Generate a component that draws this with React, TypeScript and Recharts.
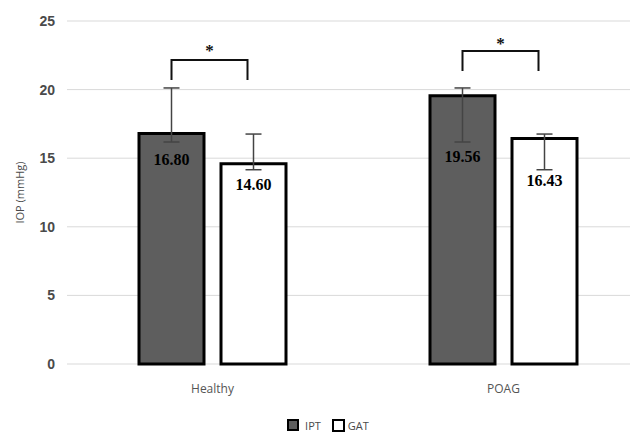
import React from 'react';
import { BarChart, Bar, XAxis, YAxis, CartesianGrid, ErrorBar, LabelList, Legend } from 'recharts';

const categories = ['Healthy', 'POAG'];
const iptValues = [16.8, 19.56];
const gatValues = [14.6, 16.43];
const iptError = [[0.62, 3.32], [3.38, 0.56]];
const gatError = [[0.44, 2.16], [2.27, 0.33]];
const iptLabelLevel = [14.94, 15.16];
const gatLabelLevel = [13.05, 13.41];
const bracketTop = [22.16, 22.81];
const bracketFoot = [20.7, 21.36];
const starLevel = [23.25, 23.69];
const yTicks = [0, 5, 10, 15, 20, 25];
const significance = ['*', '*'];

const data = categories.map((c, i) => ({
  name: c,
  IPT: iptValues[i],
  GAT: gatValues[i],
  iptErr: iptError[i],
  gatErr: gatError[i],
}));

const BAR_SIZE = 65;
const BAR_GAP = 17;

const valueLabel = (levels: number[]) => (props: any) => {
  const { x, y, width, height, value, index } = props;
  const k = height / value;
  const zero = y + height;
  const cy = zero - levels[index] * k;
  return (
    <text
      x={x + width / 2}
      y={cy}
      textAnchor="middle"
      dominantBaseline="central"
      fontFamily="'Liberation Serif', 'Times New Roman', serif"
      fontWeight="bold"
      fontSize={16}
      fill="#000"
    >
      {Number(value).toFixed(2)}
    </text>
  );
};

const bracketLabel = (props: any) => {
  const { x, y, width, height, value, index } = props;
  const k = height / value;
  const zero = y + height;
  const x1 = x + width / 2;
  const x2 = x + width * 1.5 + BAR_GAP - 6;
  const yt = zero - bracketTop[index] * k;
  const yf = zero - bracketFoot[index] * k;
  const ys = zero - starLevel[index] * k;
  return (
    <g>
      <path
        d={`M${x1},${yf} L${x1},${yt} L${x2},${yt} L${x2},${yf}`}
        fill="none"
        stroke="#111"
        strokeWidth={2}
      />
      <text
        x={(x1 + x2) / 2}
        y={ys + 5}
        textAnchor="middle"
        dominantBaseline="central"
        fontFamily="'Liberation Serif', serif"
        fontWeight="bold"
        fontSize={17}
        fill="#111"
      >
        {significance[index]}
      </text>
    </g>
  );
};

const LegendContent = () => (
  <div
    style={{
      height: 20,
      display: 'flex',
      justifyContent: 'center',
      alignItems: 'center',
      fontFamily: "'Open Sans', sans-serif",
      fontSize: 11,
      color: '#4a4a4a',
      paddingLeft: 10,
    }}
  >
    <span
      style={{
        display: 'inline-block',
        width: 8,
        height: 8,
        background: '#5e5e5e',
        border: '2px solid #000',
        marginRight: 6,
      }}
    />
    <span style={{ marginRight: 11 }}>IPT</span>
    <span
      style={{
        display: 'inline-block',
        width: 9,
        height: 9,
        background: '#fff',
        border: '2px solid #000',
        marginRight: 3,
      }}
    />
    <span>GAT</span>
  </div>
);

const yLabel = (props: any) => {
  const vb = props.viewBox || { x: 0, y: 0, width: 0, height: 0 };
  const cx = vb.x + 11;
  const cy = vb.y + vb.height / 2;
  return (
    <text
      x={cx}
      y={cy}
      transform={`rotate(-90 ${cx} ${cy})`}
      textAnchor="middle"
      dominantBaseline="central"
      fontFamily="'Open Sans', sans-serif"
      fontSize={11}
      fill="#4a4a4a"
    >
      IOP (mmHg)
    </text>
  );
};

export default function App() {
  return (
    <BarChart
      width={630}
      height={427}
      data={data}
      margin={{ top: 13, right: 0, left: 0, bottom: 0 }}
      barSize={BAR_SIZE}
      barGap={BAR_GAP}
    >
      <CartesianGrid vertical={false} stroke="#d9d9d9" />
      <XAxis
        dataKey="name"
        axisLine={false}
        tickLine={false}
        tickSize={0}
        tickMargin={20}
        height={51}
        padding={{ left: 0, right: -11 }}
        tick={{ fontFamily: "'Open Sans', sans-serif", fontSize: 12, fill: '#555555' }}
      />
      <YAxis
        width={59}
        domain={[0, 25]}
        ticks={yTicks}
        axisLine={false}
        tickLine={false}
        tickSize={0}
        tickMargin={12}
        tick={{ fontFamily: "'Liberation Sans', Arial, sans-serif", fontSize: 14, fontWeight: 'bold', fill: '#4a4a4a' }}
        label={yLabel}
      />
      <Legend verticalAlign="bottom" content={LegendContent} />
      <Bar dataKey="IPT" fill="#5e5e5e" stroke="#000" strokeWidth={3} isAnimationActive={false}>
        <ErrorBar dataKey="iptErr" width={8} stroke="#444" strokeWidth={1.5} />
        <LabelList dataKey="IPT" content={valueLabel(iptLabelLevel)} />
        <LabelList dataKey="IPT" content={bracketLabel} />
      </Bar>
      <Bar dataKey="GAT" fill="#fff" stroke="#000" strokeWidth={3} isAnimationActive={false}>
        <ErrorBar dataKey="gatErr" width={8} stroke="#444" strokeWidth={1.5} />
        <LabelList dataKey="GAT" content={valueLabel(gatLabelLevel)} />
      </Bar>
    </BarChart>
  );
}
